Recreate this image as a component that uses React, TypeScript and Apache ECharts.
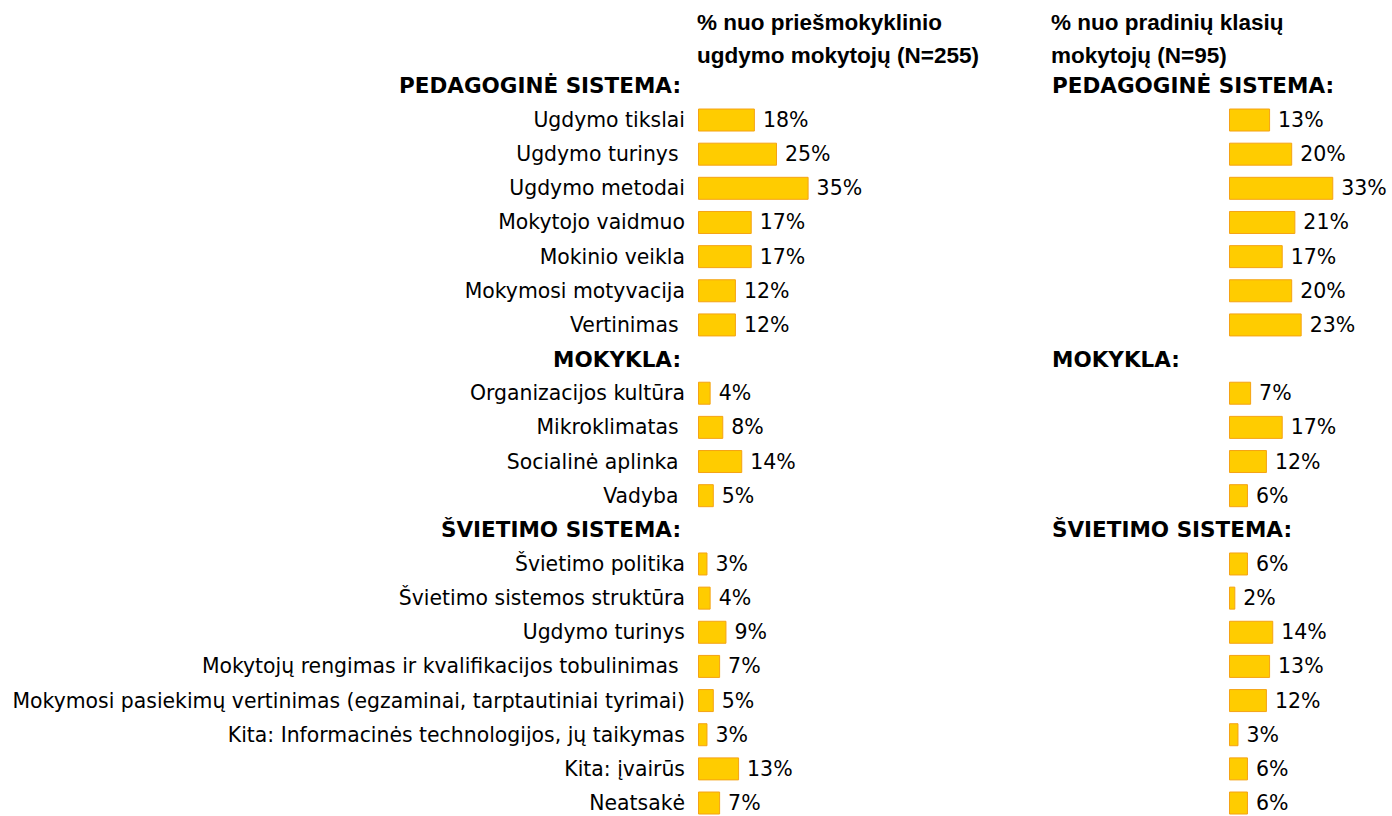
import React, { useEffect, useRef } from "react";
import * as echarts from "echarts";

const leftTitle = "% nuo priešmokyklinio\nugdymo mokytojų (N=255)";
const rightTitle = "% nuo pradinių klasių\nmokytojų (N=95)";

// rows: header rows are marked in isHeader
const rowLabels = [
  "PEDAGOGINĖ SISTEMA:",
  "Ugdymo tikslai",
  "Ugdymo turinys ",
  "Ugdymo metodai",
  "Mokytojo vaidmuo",
  "Mokinio veikla",
  "Mokymosi motyvacija",
  "Vertinimas ",
  "MOKYKLA:",
  "Organizacijos kultūra",
  "Mikroklimatas ",
  "Socialinė aplinka ",
  "Vadyba ",
  "ŠVIETIMO SISTEMA:",
  "Švietimo politika",
  "Švietimo sistemos struktūra",
  "Ugdymo turinys",
  "Mokytojų rengimas ir kvalifikacijos tobulinimas ",
  "Mokymosi pasiekimų vertinimas (egzaminai, tarptautiniai tyrimai)",
  "Kita: Informacinės technologijos, jų taikymas",
  "Kita: įvairūs",
  "Neatsakė",
];
const isHeader = [
  true, false, false, false, false, false, false, false,
  true, false, false, false, false,
  true, false, false, false, false, false, false, false, false,
];
// null = header row (no bar)
const preschoolValues = [
  null, 18, 25, 35, 17, 17, 12, 12,
  null, 4, 8, 14, 5,
  null, 3, 4, 9, 7, 5, 3, 13, 7,
];
const primaryValues = [
  null, 13, 20, 33, 21, 17, 20, 23,
  null, 7, 17, 12, 6,
  null, 6, 2, 14, 13, 12, 3, 6, 6,
];

const LABEL_FONT = "DejaVu Sans";
const BAR_FILL = "#FFCC00";
const BAR_BORDER = "#F5A314";

export default function App() {
  const ref = useRef<HTMLDivElement>(null);
  useEffect(() => {
    if (!ref.current) return;
    const chart = echarts.init(ref.current, null, { renderer: "svg" });
    const ids = rowLabels.map((_, i) => "r" + i);
    const valueLabel = {
      show: true,
      position: "right",
      distance: 8,
      color: "#000",
      fontFamily: LABEL_FONT,
      fontSize: 20.5,
      formatter: (p: any) => (p.value == null ? "" : p.value + "%"),
    };
    const barStyle = { color: BAR_FILL, borderColor: BAR_BORDER, borderWidth: 1 };
    const titleStyle = {
      fontFamily: "Liberation Sans",
      fontWeight: "bold",
      fontSize: 22.5,
      color: "#000",
      lineHeight: 33,
    };
    chart.setOption({
      animation: false,
      backgroundColor: "#fff",
      title: [
        { text: leftTitle, left: 697, top: 6, padding: 0, textStyle: titleStyle },
        { text: rightTitle, left: 1051, top: 6, padding: 0, textStyle: titleStyle },
      ],
      grid: [
        { left: 698, top: 68.8, width: 158, height: 751.3, outerBoundsMode: "none", containLabel: false },
        { left: 1229, top: 68.8, width: 158, height: 751.3, outerBoundsMode: "none", containLabel: false },
      ],
      xAxis: [
        { gridIndex: 0, type: "value", min: 0, max: 50, show: false },
        { gridIndex: 1, type: "value", min: 0, max: 50, show: false },
      ],
      yAxis: [
        {
          gridIndex: 0,
          type: "category",
          inverse: true,
          data: ids,
          axisLine: { show: false },
          axisTick: { show: false },
          axisLabel: {
            margin: 13,
            interval: 0,
            formatter: (_v: string, i: number) =>
              isHeader[i] ? "{h|" + rowLabels[i] + "}" : "{n|" + rowLabels[i] + "}",
            rich: {
              h: { fontFamily: LABEL_FONT, fontWeight: "bold", fontSize: 21.5, color: "#000", padding: [0, 4, 0, 0] },
              n: { fontFamily: LABEL_FONT, fontSize: 20.4, color: "#000" },
            },
          },
        },
        {
          gridIndex: 1,
          type: "category",
          inverse: true,
          data: ids,
          axisLine: { show: false },
          axisTick: { show: false },
          axisLabel: {
            margin: 177,
            interval: 0,
            align: "left",
            formatter: (_v: string, i: number) => (isHeader[i] ? rowLabels[i] : ""),
            fontFamily: LABEL_FONT,
            fontWeight: "bold",
            fontSize: 21.5,
            color: "#000",
          },
        },
      ],
      series: [
        {
          type: "bar",
          xAxisIndex: 0,
          yAxisIndex: 0,
          data: preschoolValues,
          barWidth: 23,
          itemStyle: barStyle,
          label: valueLabel,
        },
        {
          type: "bar",
          xAxisIndex: 1,
          yAxisIndex: 1,
          data: primaryValues,
          barWidth: 23,
          itemStyle: barStyle,
          label: valueLabel,
        },
      ],
    });
    return () => chart.dispose();
  }, []);
  return (
    <div
      ref={ref}
      style={{ position: "absolute", left: 0, top: 0, width: 1392, height: 816 }}
    />
  );
}
